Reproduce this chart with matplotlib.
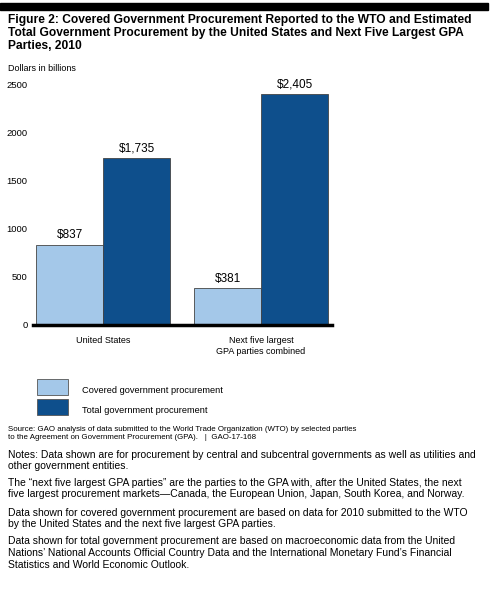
import matplotlib
matplotlib.use("Agg")
import matplotlib.pyplot as plt
from matplotlib.patches import Rectangle

plt.rcParams['font.family'] = ['Liberation Sans', 'DejaVu Sans']

# data
categories = ["United States", "Next five largest\nGPA parties combined"]
covered = [837, 381]
total = [1735, 2405]
series_names = ["Covered government procurement", "Total government procurement"]
yticks = [0, 500, 1000, 1500, 2000, 2500]

light = "#a4c8e9"
dark = "#0e4f8c"

W, H = 496, 589
fig = plt.figure(figsize=(W / 100, H / 100), dpi=100)


def fx(px):
    return px / W


def fy(py):
    return 1 - py / H


def ftext(x, y, s, **kw):
    fig.text(fx(x), fy(y), s, va='baseline', ha='left', **kw)


# black band at top
fig.add_artist(Rectangle((0, fy(10)), fx(488), 7 / H, color='black',
                         transform=fig.transFigure))

title = ["Figure 2: Covered Government Procurement Reported to the WTO and Estimated",
         "Total Government Procurement by the United States and Next Five Largest GPA",
         "Parties, 2010"]
for i, line in enumerate(title):
    ftext(8, 22.7 + i * 13.3, line, fontsize=8.65, fontweight='bold')

ftext(8, 71, "Dollars in billions", fontsize=6.5)

# axes: baseline at y=325, 2500 at y=85, x from 33 to 332
ax = fig.add_axes([fx(33), fy(325), fx(332) - fx(33), (325 - 85) / H])
ax.set_ylim(0, 2500)
ax.set_xlim((33 - 103) / 158, (332 - 103) / 158)
w = 67 / 158
x = [0, 1]
b1 = ax.bar([i - w / 2 for i in x], covered, width=w, color=light,
            edgecolor='#444444', linewidth=0.6, zorder=2)
b2 = ax.bar([i + w / 2 for i in x], total, width=w, color=dark,
            edgecolor='#444444', linewidth=0.6, zorder=2)
for bars, vals in ((b1, covered), (b2, total)):
    for r, v in zip(bars, vals):
        ax.text(r.get_x() + r.get_width() / 2, v + 40, "${:,}".format(v),
                ha='center', va='bottom', fontsize=8.5)

for s in ['top', 'right', 'left']:
    ax.spines[s].set_visible(False)
ax.spines['bottom'].set_linewidth(2.5)
ax.spines['bottom'].set_color('black')
ax.set_yticks(yticks)
ax.set_yticklabels([str(t) for t in yticks], fontsize=6.8)
ax.tick_params(axis='y', length=0, pad=4)
ax.set_xticks(x)
ax.set_xticklabels(categories, fontsize=6.5, linespacing=1.25)
ax.tick_params(axis='x', length=0, pad=8)

# legend
for i, (name, c) in enumerate(zip(series_names, [light, dark])):
    top = 379 + i * 20
    fig.add_artist(Rectangle((fx(37), fy(top + 16)), fx(68) - fx(37), 16 / H,
                             facecolor=c, edgecolor='#555555', linewidth=0.6,
                             transform=fig.transFigure))
    ftext(82, 392.7 + i * 20, name, fontsize=6.7)

ftext(8, 431, "Source: GAO analysis of data submitted to the World Trade Organization (WTO) by selected parties",
      fontsize=5.7)
ftext(8, 439.3, "to the Agreement on Government Procurement (GPA).   |  GAO-17-168", fontsize=5.7)

notes = [
    (457.7, "Notes: Data shown are for procurement by central and subcentral governments as well as utilities and"),
    (469.0, "other government entities."),
    (486.0, "The \u201cnext five largest GPA parties\u201d are the parties to the GPA with, after the United States, the next"),
    (497.3, "five largest procurement markets\u2014Canada, the European Union, Japan, South Korea, and Norway."),
    (516.0, "Data shown for covered government procurement are based on data for 2010 submitted to the WTO"),
    (527.3, "by the United States and the next five largest GPA parties."),
    (544.5, "Data shown for total government procurement are based on macroeconomic data from the United"),
    (556.0, "Nations\u2019 National Accounts Official Country Data and the International Monetary Fund\u2019s Financial"),
    (567.5, "Statistics and World Economic Outlook."),
]
for y, s in notes:
    ftext(8, y, s, fontsize=7.5)

fig.savefig("out.png", dpi=100)
